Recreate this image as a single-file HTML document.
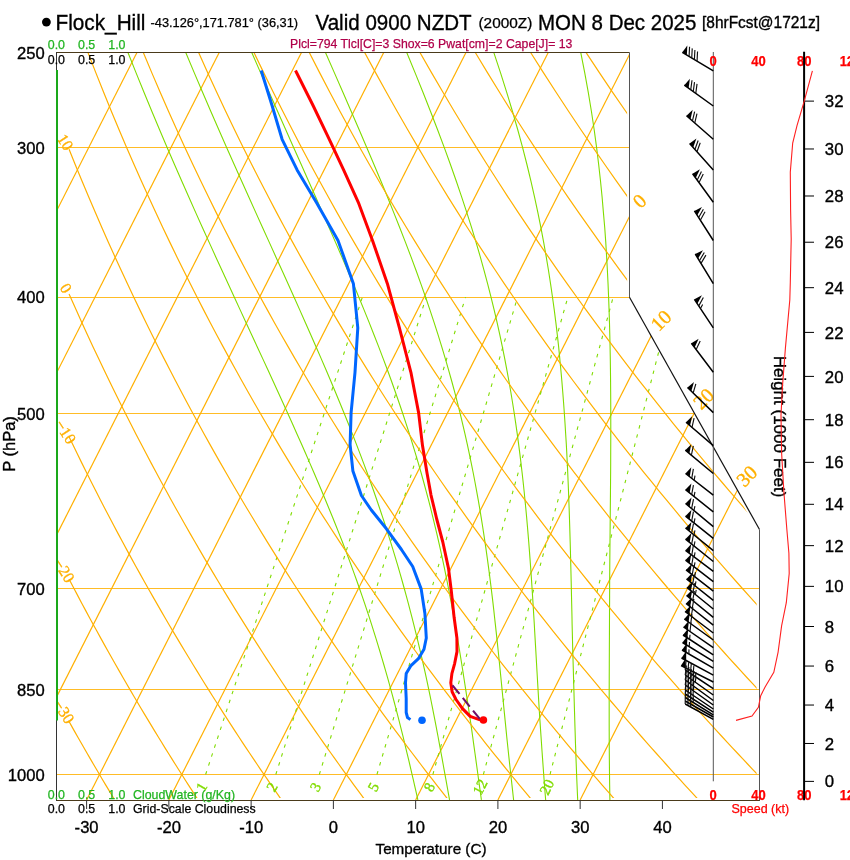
<!DOCTYPE html>
<html><head><meta charset="utf-8"><style>
html,body{margin:0;padding:0;background:#fff;overflow:hidden;}
svg{display:block;font-family:"Liberation Sans",Arial,Helvetica,sans-serif;}
</style></head><body>
<svg width="850" height="860" viewBox="0 0 850 860">
<defs><clipPath id="cp"><polygon points="56.87,799.94 759.11,799.94 759.11,529.52 629.63,297.33 629.63,52.45 56.87,52.45"/></clipPath>
<clipPath id="cp2"><polygon points="56.87,797.94 756.61,797.94 756.61,529.52 627.13,297.33 627.13,52.45 56.87,52.45"/></clipPath></defs>
<rect width="850" height="860" fill="#fff"/>
<g clip-path="url(#cp)">
<line x1="56" y1="774.5" x2="760" y2="774.5" stroke="#ffb000" stroke-opacity="0.85" stroke-width="1"/>
<line x1="56" y1="689.5" x2="760" y2="689.5" stroke="#ffb000" stroke-opacity="0.85" stroke-width="1"/>
<line x1="56" y1="588.5" x2="760" y2="588.5" stroke="#ffb000" stroke-opacity="0.85" stroke-width="1"/>
<line x1="56" y1="413.5" x2="760" y2="413.5" stroke="#ffb000" stroke-opacity="0.85" stroke-width="1"/>
<line x1="56" y1="297.5" x2="760" y2="297.5" stroke="#ffb000" stroke-opacity="0.85" stroke-width="1"/>
<line x1="56" y1="147.5" x2="760" y2="147.5" stroke="#ffb000" stroke-opacity="0.85" stroke-width="1"/>
<polyline points="-324.68,799.94 54.7,52.45" fill="none" stroke="#ffb000" stroke-width="1.2" />
<polyline points="-242.42,799.94 136.96,52.45" fill="none" stroke="#ffb000" stroke-width="1.2" />
<polyline points="-160.16,799.94 219.22,52.45" fill="none" stroke="#ffb000" stroke-width="1.2" />
<polyline points="-77.9,799.94 301.47,52.45" fill="none" stroke="#ffb000" stroke-width="1.2" />
<polyline points="4.36,799.94 383.73,52.45" fill="none" stroke="#ffb000" stroke-width="1.2" />
<polyline points="86.61,799.94 465.99,52.45" fill="none" stroke="#ffb000" stroke-width="1.2" />
<polyline points="168.87,799.94 548.25,52.45" fill="none" stroke="#ffb000" stroke-width="1.2" />
<polyline points="251.13,799.94 630.51,52.45" fill="none" stroke="#ffb000" stroke-width="1.2" />
<polyline points="333.39,799.94 712.76,52.45" fill="none" stroke="#ffb000" stroke-width="1.2" />
<polyline points="415.65,799.94 795.02,52.45" fill="none" stroke="#ffb000" stroke-width="1.2" />
<polyline points="497.9,799.94 877.28,52.45" fill="none" stroke="#ffb000" stroke-width="1.2" />
<polyline points="580.16,799.94 959.54,52.45" fill="none" stroke="#ffb000" stroke-width="1.2" />
<polyline points="417.89,799.94 416.76,794.96 415.62,789.92 414.46,784.84 413.29,779.71 412.09,774.53 410.88,769.29 409.64,764 408.37,758.66 407.08,753.26 405.75,747.81 404.44,742.3 403.07,736.73 401.68,731.1 400.25,725.4 398.79,719.65 397.29,713.83 395.76,707.94 394.19,701.99 392.58,695.97 390.93,689.88 389.23,683.71 387.49,677.47 385.7,671.16 383.86,664.77 381.97,658.3 380.02,651.75 378.01,645.11 375.95,638.39 373.82,631.58 371.63,624.68 369.37,617.69 367.04,610.6 364.63,603.42 362.15,596.14 359.59,588.75 356.95,581.25 354.22,573.65 351.4,565.93 348.52,558.1 345.53,550.15 342.41,542.07 339.2,533.87 335.89,525.53 332.48,517.06 328.97,508.46 325.36,499.7 321.64,490.8 317.81,481.74 313.88,472.52 309.82,463.13 305.66,453.58 301.38,443.84 296.97,433.92 292.45,423.8 287.81,413.49 283.04,402.97 278.15,392.23 273.13,381.26 267.98,370.06 262.7,358.61 257.29,346.91 251.75,334.93 246.08,322.67 240.27,310.12 234.33,297.26 228.25,284.07 222.03,270.54 215.67,256.65 209.17,242.38 202.52,227.71 195.73,212.61 188.8,197.06 181.72,181.03 174.49,164.5 167.11,147.42 159.59,129.76 151.91,111.48 144.07,92.54 136.09,72.88 127.95,52.45" fill="none" stroke="#80dc00" stroke-width="1.1" />
<polyline points="449.55,799.94 448.66,794.96 447.76,789.92 446.85,784.84 445.93,779.71 445,774.53 444.05,769.29 443.09,764 442.12,758.66 441.12,753.26 440.11,747.81 439.11,742.3 438.07,736.73 437,731.1 435.92,725.4 434.8,719.65 433.67,713.83 432.5,707.94 431.31,701.99 430.09,695.97 428.83,689.88 427.53,683.71 426.2,677.47 424.83,671.16 423.41,664.77 421.94,658.3 420.4,651.75 418.82,645.11 417.2,638.39 415.52,631.58 413.8,624.68 412.03,617.69 410.2,610.6 408.31,603.42 406.36,596.14 404.34,588.75 402.25,581.25 400.09,573.65 397.85,565.93 395.52,558.1 393.11,550.15 390.62,542.07 388.05,533.87 385.37,525.53 382.59,517.06 379.71,508.46 376.72,499.7 373.61,490.8 370.39,481.74 367.05,472.52 363.58,463.13 359.99,453.58 356.26,443.84 352.39,433.92 348.38,423.8 344.23,413.49 339.93,402.97 335.48,392.23 330.88,381.26 326.11,370.06 321.19,358.61 316.11,346.91 310.86,334.93 305.44,322.67 299.85,310.12 294.1,297.26 288.16,284.07 282.06,270.54 275.77,256.65 269.3,242.38 262.65,227.71 255.82,212.61 248.8,197.06 241.6,181.03 234.2,164.5 226.61,147.42 218.83,129.76 210.86,111.48 202.68,92.54 194.31,72.88 185.74,52.45" fill="none" stroke="#80dc00" stroke-width="1.1" />
<polyline points="481.41,799.94 480.71,794.96 480.01,789.92 479.31,784.84 478.61,779.71 477.9,774.53 477.18,769.29 476.46,764 475.72,758.66 474.98,753.26 474.22,747.81 473.44,742.3 472.69,736.73 471.9,731.1 471.09,725.4 470.23,719.65 469.37,713.83 468.48,707.94 467.59,701.99 466.68,695.97 465.75,689.88 464.81,683.71 463.84,677.47 462.86,671.16 461.85,664.77 460.81,658.3 459.75,651.75 458.65,645.11 457.53,638.39 456.37,631.58 455.18,624.68 453.94,617.69 452.66,610.6 451.34,603.42 449.97,596.14 448.55,588.75 447.08,581.25 445.54,573.65 443.95,565.93 442.29,558.1 440.56,550.15 438.75,542.07 436.87,533.87 434.89,525.53 432.83,517.06 430.68,508.46 428.43,499.7 426.07,490.8 423.6,481.74 421.02,472.52 418.31,463.13 415.48,453.58 412.51,443.84 409.4,433.92 406.15,423.8 402.74,413.49 399.17,402.97 395.44,392.23 391.53,381.26 387.45,370.06 383.18,358.61 378.72,346.91 374.06,334.93 369.21,322.67 364.14,310.12 358.86,297.26 353.37,284.07 347.66,270.54 341.72,256.65 335.55,242.38 329.15,227.71 322.52,212.61 315.65,197.06 308.53,181.03 301.23,164.5 293.62,147.42 285.77,129.76 277.65,111.48 269.28,92.54 260.65,72.88 251.75,52.45" fill="none" stroke="#80dc00" stroke-width="1.1" />
<polyline points="513.61,799.94 513.06,794.96 512.51,789.92 511.95,784.84 511.38,779.71 510.8,774.53 510.22,769.29 509.64,764 509.06,758.66 508.48,753.26 507.9,747.81 507.32,742.3 506.74,736.73 506.19,731.1 505.62,725.4 505.04,719.65 504.47,713.83 503.88,707.94 503.3,701.99 502.7,695.97 502.1,689.88 501.5,683.71 500.88,677.47 500.25,671.16 499.61,664.77 498.95,658.3 498.28,651.75 497.59,645.11 496.88,638.39 496.15,631.58 495.39,624.68 494.61,617.69 493.85,610.6 493.02,603.42 492.16,596.14 491.26,588.75 490.33,581.25 489.36,573.65 488.34,565.93 487.28,558.1 486.16,550.15 484.99,542.07 483.76,533.87 482.47,525.53 481.12,517.06 479.69,508.46 478.18,499.7 476.59,490.8 474.91,481.74 473.14,472.52 471.24,463.13 469.28,453.58 467.2,443.84 464.97,433.92 462.62,423.8 460.13,413.49 457.49,402.97 454.7,392.23 451.75,381.26 448.62,370.06 445.3,358.61 441.79,346.91 438.08,334.93 434.15,322.67 430,310.12 425.61,297.26 420.98,284.07 416.08,270.54 410.93,256.65 405.49,242.38 399.78,227.71 393.76,212.61 387.5,197.06 380.89,181.03 373.97,164.5 366.73,147.42 359.16,129.76 351.25,111.48 343.01,92.54 334.42,72.88 325.48,52.45" fill="none" stroke="#80dc00" stroke-width="1.1" />
<polyline points="545.67,799.94 545.27,794.96 544.87,789.92 544.48,784.84 544.09,779.71 543.71,774.53 543.32,769.29 542.94,764 542.56,758.66 542.17,753.26 541.78,747.81 541.42,742.3 541.04,736.73 540.65,731.1 540.27,725.4 539.88,719.65 539.5,713.83 539.14,707.94 538.78,701.99 538.42,695.97 538.06,689.88 537.7,683.71 537.34,677.47 536.98,671.16 536.61,664.77 536.24,658.3 535.87,651.75 535.48,645.11 535.09,638.39 534.69,631.58 534.32,624.68 533.9,617.69 533.47,610.6 533.03,603.42 532.57,596.14 532.09,588.75 531.6,581.25 531.08,573.65 530.53,565.93 529.96,558.1 529.36,550.15 528.73,542.07 528.06,533.87 527.35,525.53 526.61,517.06 525.81,508.46 524.96,499.7 524.07,490.8 523.11,481.74 522.08,472.52 520.99,463.13 519.82,453.58 518.58,443.84 517.24,433.92 515.8,423.8 514.27,413.49 512.62,402.97 510.85,392.23 508.95,381.26 506.89,370.06 504.71,358.61 502.36,346.91 499.83,334.93 497.12,322.67 494.2,310.12 491.07,297.26 487.71,284.07 484.1,270.54 480.23,256.65 476.07,242.38 471.61,227.71 466.83,212.61 461.71,197.06 456.24,181.03 450.43,164.5 444.21,147.42 437.58,129.76 430.54,111.48 423.06,92.54 415.13,72.88 406.74,52.45" fill="none" stroke="#80dc00" stroke-width="1.1" />
<polyline points="577.7,799.94 577.47,794.96 577.25,789.92 577.03,784.84 576.82,779.71 576.61,774.53 576.41,769.29 576.21,764 576.01,758.66 575.82,753.26 575.63,747.81 575.43,742.3 575.28,736.73 575.1,731.1 574.92,725.4 574.75,719.65 574.58,713.83 574.4,707.94 574.23,701.99 574.06,695.97 573.89,689.88 573.71,683.71 573.54,677.47 573.36,671.16 573.17,664.77 572.98,658.3 572.79,651.75 572.62,645.11 572.46,638.39 572.29,631.58 572.12,624.68 572,617.69 571.84,610.6 571.68,603.42 571.51,596.14 571.34,588.75 571.17,581.25 570.99,573.65 570.8,565.93 570.61,558.1 570.4,550.15 570.18,542.07 569.94,533.87 569.69,525.53 569.42,517.06 569.14,508.46 568.82,499.7 568.48,490.8 568.12,481.74 567.72,472.52 567.28,463.13 566.81,453.58 566.29,443.84 565.67,433.92 565.04,423.8 564.35,413.49 563.6,402.97 562.77,392.23 561.87,381.26 560.87,370.06 559.78,358.61 558.65,346.91 557.32,334.93 555.87,322.67 554.28,310.12 552.5,297.26 550.61,284.07 548.5,270.54 546.2,256.65 543.68,242.38 540.91,227.71 537.88,212.61 534.56,197.06 530.93,181.03 526.93,164.5 522.55,147.42 517.75,129.76 512.51,111.48 506.79,92.54 500.55,72.88 493.76,52.45" fill="none" stroke="#80dc00" stroke-width="1.1" />
<polyline points="609.91,799.94 609.81,794.96 609.73,789.92 609.65,784.84 609.58,779.71 609.51,774.53 609.45,769.29 609.4,764 609.35,758.66 609.31,753.26 609.27,747.81 609.23,742.3 609.22,736.73 609.2,731.1 609.19,725.4 609.18,719.65 609.18,713.83 609.18,707.94 609.18,701.99 609.19,695.97 609.2,689.88 609.22,683.71 609.24,677.47 609.26,671.16 609.29,664.77 609.31,658.3 609.34,651.75 609.37,645.11 609.41,638.39 609.44,631.58 609.47,624.68 609.5,617.69 609.52,610.6 609.59,603.42 609.62,596.14 609.64,588.75 609.66,581.25 609.71,573.65 609.77,565.93 609.84,558.1 609.91,550.15 609.99,542.07 610.07,533.87 610.15,525.53 610.23,517.06 610.31,508.46 610.4,499.7 610.48,490.8 610.55,481.74 610.63,472.52 610.69,463.13 610.71,453.58 610.75,443.84 610.78,433.92 610.78,423.8 610.77,413.49 610.74,402.97 610.67,392.23 610.58,381.26 610.45,370.06 610.29,358.61 610.07,346.91 609.8,334.93 609.48,322.67 609.08,310.12 608.61,297.26 608.05,284.07 607.39,270.54 606.62,256.65 605.77,242.38 604.74,227.71 603.42,212.61 602.1,197.06 600.5,181.03 598.67,164.5 596.58,147.42 594.18,129.76 591.44,111.48 588.32,92.54 584.75,72.88 580.73,52.45" fill="none" stroke="#80dc00" stroke-width="1.1" />
<polyline points="205.61,774.53 362.35,297.26" fill="none" stroke="#80dc00" stroke-width="1.1" stroke-dasharray="3.5,5.9"/>
<polyline points="275.81,774.53 426.12,297.26" fill="none" stroke="#80dc00" stroke-width="1.1" stroke-dasharray="3.5,5.9"/>
<polyline points="319.33,774.53 465.53,297.26" fill="none" stroke="#80dc00" stroke-width="1.1" stroke-dasharray="3.5,5.9"/>
<polyline points="376.95,774.53 517.53,297.26" fill="none" stroke="#80dc00" stroke-width="1.1" stroke-dasharray="3.5,5.9"/>
<polyline points="432.85,774.53 567.82,297.26" fill="none" stroke="#80dc00" stroke-width="1.1" stroke-dasharray="3.5,5.9"/>
<polyline points="483.37,774.53 613.13,297.26" fill="none" stroke="#80dc00" stroke-width="1.1" stroke-dasharray="3.5,5.9"/>
<polyline points="550.02,774.53 672.75,297.26" fill="none" stroke="#80dc00" stroke-width="1.1" stroke-dasharray="3.5,5.9"/>
</g>
<g clip-path="url(#cp2)">
<polyline points="114.72,799.94 111.71,794.96 108.68,789.92 105.64,784.84 102.58,779.71 99.51,774.53 96.43,769.29 93.33,764 90.22,758.66 87.09,753.26 83.94,747.81 80.78,742.3 77.61,736.73 74.42,731.1 71.21,725.4 69.06,721.56" fill="none" stroke="#ffb000" stroke-width="1.2" />
<polyline points="198.13,799.94 194.89,794.96 191.63,789.92 188.36,784.84 185.07,779.71 181.77,774.53 178.45,769.29 175.11,764 171.76,758.66 168.39,753.26 165,747.81 161.6,742.3 158.18,736.73 154.74,731.1 151.28,725.4 147.81,719.65 144.32,713.83 140.8,707.94 137.27,701.99 133.72,695.97 130.15,689.88 126.57,683.71 122.96,677.47 119.33,671.16 115.68,664.77 112.01,658.3 108.32,651.75 104.61,645.11 100.88,638.39 97.12,631.58 93.34,624.68 89.54,617.69 85.72,610.6 81.87,603.42 78,596.14 74.11,588.75 70.19,581.25 69.06,579.08" fill="none" stroke="#ffb000" stroke-width="1.2" />
<polyline points="281.55,799.94 278.08,794.96 274.59,789.92 271.09,784.84 267.57,779.71 264.03,774.53 260.47,769.29 256.9,764 253.3,758.66 249.69,753.26 246.06,747.81 242.41,742.3 238.75,736.73 235.06,731.1 231.35,725.4 227.62,719.65 223.88,713.83 220.11,707.94 216.32,701.99 212.51,695.97 208.68,689.88 204.82,683.71 200.95,677.47 197.05,671.16 193.13,664.77 189.18,658.3 185.22,651.75 181.23,645.11 177.21,638.39 173.17,631.58 169.1,624.68 165.01,617.69 160.9,610.6 156.75,603.42 152.58,596.14 148.39,588.75 144.16,581.25 139.91,573.65 135.63,565.93 131.32,558.1 126.98,550.15 122.61,542.07 118.22,533.87 113.79,525.53 109.32,517.06 104.83,508.46 100.3,499.7 95.74,490.8 91.15,481.74 86.52,472.52 81.86,463.13 77.16,453.58 72.43,443.84 69.06,436.84" fill="none" stroke="#ffb000" stroke-width="1.2" />
<polyline points="364.96,799.94 361.26,794.96 357.55,789.92 353.81,784.84 350.06,779.71 346.29,774.53 342.49,769.29 338.68,764 334.85,758.66 331,753.26 327.12,747.81 323.23,742.3 319.32,736.73 315.38,731.1 311.42,725.4 307.44,719.65 303.44,713.83 299.41,707.94 295.37,701.99 291.29,695.97 287.2,689.88 283.08,683.71 278.94,677.47 274.77,671.16 270.58,664.77 266.36,658.3 262.11,651.75 257.84,645.11 253.54,638.39 249.22,631.58 244.86,624.68 240.48,617.69 236.07,610.6 231.64,603.42 227.17,596.14 222.67,588.75 218.14,581.25 213.58,573.65 208.99,565.93 204.36,558.1 199.71,550.15 195.02,542.07 190.29,533.87 185.53,525.53 180.74,517.06 175.91,508.46 171.04,499.7 166.14,490.8 161.19,481.74 156.21,472.52 151.19,463.13 146.13,453.58 141.03,443.84 135.88,433.92 130.69,423.8 125.46,413.49 120.18,402.97 114.86,392.23 109.49,381.26 104.07,370.06 98.61,358.61 93.09,346.91 87.53,334.93 81.91,322.67 76.24,310.12 70.51,297.26 69.06,293.95" fill="none" stroke="#ffb000" stroke-width="1.2" />
<polyline points="448.38,799.94 444.45,794.96 440.5,789.92 436.54,784.84 432.55,779.71 428.54,774.53 424.52,769.29 420.47,764 416.39,758.66 412.3,753.26 408.18,747.81 404.05,742.3 399.88,736.73 395.7,731.1 391.49,725.4 387.26,719.65 383,713.83 378.72,707.94 374.41,701.99 370.08,695.97 365.72,689.88 361.34,683.71 356.93,677.47 352.49,671.16 348.02,664.77 343.53,658.3 339.01,651.75 334.46,645.11 329.88,638.39 325.27,631.58 320.63,624.68 315.95,617.69 311.25,610.6 306.52,603.42 301.75,596.14 296.95,588.75 292.12,581.25 287.25,573.65 282.34,565.93 277.4,558.1 272.43,550.15 267.42,542.07 262.37,533.87 257.28,525.53 252.15,517.06 246.98,508.46 241.78,499.7 236.53,490.8 231.24,481.74 225.9,472.52 220.52,463.13 215.1,453.58 209.63,443.84 204.11,433.92 198.54,423.8 192.93,413.49 187.26,402.97 181.54,392.23 175.77,381.26 169.95,370.06 164.07,358.61 158.14,346.91 152.15,334.93 146.09,322.67 139.98,310.12 133.81,297.26 127.57,284.07 121.27,270.54 114.9,256.65 108.46,242.38 101.95,227.71 95.37,212.61 88.72,197.06 81.99,181.03 75.18,164.5 69.06,149.3" fill="none" stroke="#ffb000" stroke-width="1.2" />
<polyline points="531.79,799.94 527.64,794.96 523.46,789.92 519.26,784.84 515.04,779.71 510.8,774.53 506.54,769.29 502.25,764 497.94,758.66 493.6,753.26 489.24,747.81 484.86,742.3 480.45,736.73 476.02,731.1 471.56,725.4 467.07,719.65 462.56,713.83 458.02,707.94 453.46,701.99 448.87,695.97 444.24,689.88 439.59,683.71 434.92,677.47 430.21,671.16 425.47,664.77 420.7,658.3 415.9,651.75 411.07,645.11 406.21,638.39 401.32,631.58 396.39,624.68 391.43,617.69 386.43,610.6 381.4,603.42 376.33,596.14 371.23,588.75 366.09,581.25 360.91,573.65 355.7,565.93 350.45,558.1 345.15,550.15 339.82,542.07 334.44,533.87 329.03,525.53 323.57,517.06 318.06,508.46 312.51,499.7 306.92,490.8 301.28,481.74 295.59,472.52 289.85,463.13 284.06,453.58 278.22,443.84 272.33,433.92 266.39,423.8 260.39,413.49 254.34,402.97 248.23,392.23 242.06,381.26 235.83,370.06 229.54,358.61 223.18,346.91 216.76,334.93 210.28,322.67 203.72,310.12 197.1,297.26 190.41,284.07 183.64,270.54 176.8,256.65 169.88,242.38 162.87,227.71 155.79,212.61 148.63,197.06 141.37,181.03 134.03,164.5 126.6,147.42 119.07,129.76 111.44,111.48 103.72,92.54 95.89,72.88 87.96,52.45" fill="none" stroke="#ffb000" stroke-width="1.2" />
<polyline points="615.2,799.94 610.82,794.96 606.42,789.92 601.99,784.84 597.54,779.71 593.06,774.53 588.56,769.29 584.03,764 579.48,758.66 574.91,753.26 570.3,747.81 565.68,742.3 561.02,736.73 556.34,731.1 551.63,725.4 546.89,719.65 542.12,713.83 537.33,707.94 532.5,701.99 527.65,695.97 522.77,689.88 517.85,683.71 512.91,677.47 507.93,671.16 502.92,664.77 497.87,658.3 492.8,651.75 487.69,645.11 482.54,638.39 477.36,631.58 472.15,624.68 466.9,617.69 461.61,610.6 456.28,603.42 450.92,596.14 445.51,588.75 440.07,581.25 434.58,573.65 429.06,565.93 423.49,558.1 417.88,550.15 412.22,542.07 406.52,533.87 400.77,525.53 394.98,517.06 389.14,508.46 383.25,499.7 377.31,490.8 371.32,481.74 365.28,472.52 359.18,463.13 353.03,453.58 346.82,443.84 340.56,433.92 334.24,423.8 327.86,413.49 321.42,402.97 314.91,392.23 308.34,381.26 301.7,370.06 295,358.61 288.23,346.91 281.38,334.93 274.46,322.67 267.47,310.12 260.4,297.26 253.25,284.07 246.01,270.54 238.7,256.65 231.29,242.38 223.8,227.71 216.21,212.61 208.53,197.06 200.75,181.03 192.87,164.5 184.89,147.42 176.8,129.76 168.6,111.48 160.28,92.54 151.85,72.88 143.3,52.45" fill="none" stroke="#ffb000" stroke-width="1.2" />
<polyline points="698.62,799.94 694.01,794.96 689.37,789.92 684.71,784.84 680.03,779.71 675.32,774.53 670.58,769.29 665.82,764 661.03,758.66 656.21,753.26 651.37,747.81 646.49,742.3 641.59,736.73 636.66,731.1 631.7,725.4 626.71,719.65 621.69,713.83 616.63,707.94 611.55,701.99 606.44,695.97 601.29,689.88 596.11,683.71 590.89,677.47 585.65,671.16 580.36,664.77 575.05,658.3 569.69,651.75 564.3,645.11 558.88,638.39 553.41,631.58 547.91,624.68 542.37,617.69 536.79,610.6 531.16,603.42 525.5,596.14 519.79,588.75 514.04,581.25 508.25,573.65 502.41,565.93 496.53,558.1 490.6,550.15 484.62,542.07 478.6,533.87 472.52,525.53 466.39,517.06 460.22,508.46 453.99,499.7 447.7,490.8 441.36,481.74 434.97,472.52 428.51,463.13 422,453.58 415.42,443.84 408.79,433.92 402.09,423.8 395.32,413.49 388.49,402.97 381.59,392.23 374.62,381.26 367.58,370.06 360.46,358.61 353.27,346.91 346,334.93 338.65,322.67 331.21,310.12 323.69,297.26 316.08,284.07 308.39,270.54 300.59,256.65 292.71,242.38 284.72,227.71 276.63,212.61 268.44,197.06 260.14,181.03 251.72,164.5 243.19,147.42 234.53,129.76 225.76,111.48 216.85,92.54 207.81,72.88 198.63,52.45" fill="none" stroke="#ffb000" stroke-width="1.2" />
<polyline points="782.03,799.94 777.19,794.96 772.33,789.92 767.44,784.84 762.52,779.71 757.58,774.53 752.6,769.29 747.6,764 742.57,758.66 737.51,753.26 732.43,747.81 727.31,742.3 722.16,736.73 716.98,731.1 711.77,725.4 706.52,719.65 701.25,713.83 695.94,707.94 690.6,701.99 685.22,695.97 679.81,689.88 674.37,683.71 668.88,677.47 663.37,671.16 657.81,664.77 652.22,658.3 646.59,651.75 640.92,645.11 635.21,638.39 629.46,631.58 623.67,624.68 617.84,617.69 611.96,610.6 606.04,603.42 600.08,596.14 594.07,588.75 588.02,581.25 581.92,573.65 575.77,565.93 569.57,558.1 563.32,550.15 557.02,542.07 550.67,533.87 544.27,525.53 537.81,517.06 531.29,508.46 524.72,499.7 518.09,490.8 511.4,481.74 504.65,472.52 497.84,463.13 490.97,453.58 484.02,443.84 477.02,433.92 469.94,423.8 462.79,413.49 455.57,402.97 448.28,392.23 440.9,381.26 433.46,370.06 425.93,358.61 418.31,346.91 410.62,334.93 402.83,322.67 394.96,310.12 386.99,297.26 378.92,284.07 370.76,270.54 362.49,256.65 354.12,242.38 345.64,227.71 337.05,212.61 328.34,197.06 319.52,181.03 310.56,164.5 301.48,147.42 292.27,129.76 282.91,111.48 273.42,92.54 263.77,72.88 253.96,52.45" fill="none" stroke="#ffb000" stroke-width="1.2" />
<polyline points="865.45,799.94 860.38,794.96 855.29,789.92 850.17,784.84 845.01,779.71 839.84,774.53 834.63,769.29 829.39,764 824.12,758.66 818.82,753.26 813.49,747.81 808.12,742.3 802.73,736.73 797.3,731.1 791.84,725.4 786.34,719.65 780.81,713.83 775.24,707.94 769.64,701.99 764.01,695.97 758.33,689.88 752.62,683.71 746.87,677.47 741.09,671.16 735.26,664.77 729.39,658.3 723.48,651.75 717.54,645.11 711.54,638.39 705.51,631.58 699.43,624.68 693.31,617.69 687.14,610.6 680.93,603.42 674.66,596.14 668.35,588.75 661.99,581.25 655.59,573.65 649.12,565.93 642.61,558.1 636.05,550.15 629.42,542.07 622.75,533.87 616.01,525.53 609.22,517.06 602.37,508.46 595.46,499.7 588.48,490.8 581.45,481.74 574.34,472.52 567.17,463.13 559.93,453.58 552.62,443.84 545.24,433.92 537.79,423.8 530.26,413.49 522.65,402.97 514.96,392.23 507.19,381.26 499.33,370.06 491.39,358.61 483.36,346.91 475.23,334.93 467.01,322.67 458.7,310.12 450.28,297.26 441.76,284.07 433.13,270.54 424.39,256.65 415.54,242.38 406.57,227.71 397.47,212.61 388.25,197.06 378.9,181.03 369.41,164.5 359.78,147.42 350,129.76 340.07,111.48 329.98,92.54 319.73,72.88 309.3,52.45" fill="none" stroke="#ffb000" stroke-width="1.2" />
<polyline points="948.86,799.94 943.57,794.96 938.24,789.92 932.89,784.84 927.51,779.71 922.09,774.53 916.65,769.29 911.17,764 905.66,758.66 900.12,753.26 894.55,747.81 888.94,742.3 883.29,736.73 877.62,731.1 871.9,725.4 866.16,719.65 860.37,713.83 854.55,707.94 848.69,701.99 842.79,695.97 836.86,689.88 830.88,683.71 824.86,677.47 818.81,671.16 812.71,664.77 806.56,658.3 800.38,651.75 794.15,645.11 787.88,638.39 781.56,631.58 775.19,624.68 768.78,617.69 762.32,610.6 755.81,603.42 749.25,596.14 742.64,588.75 735.97,581.25 729.25,573.65 722.48,565.93 715.65,558.1 708.77,550.15 701.83,542.07 694.82,533.87 687.76,525.53 680.64,517.06 673.45,508.46 666.2,499.7 658.88,490.8 651.49,481.74 644.03,472.52 636.5,463.13 628.9,453.58 621.22,443.84 613.47,433.92 605.64,423.8 597.72,413.49 589.72,402.97 581.64,392.23 573.47,381.26 565.21,370.06 556.85,358.61 548.4,346.91 539.85,334.93 531.2,322.67 522.44,310.12 513.58,297.26 504.6,284.07 495.51,270.54 486.29,256.65 476.96,242.38 467.49,227.71 457.89,212.61 448.16,197.06 438.28,181.03 428.25,164.5 418.07,147.42 407.73,129.76 397.23,111.48 386.55,92.54 375.68,72.88 364.63,52.45" fill="none" stroke="#ffb000" stroke-width="1.2" />
<polyline points="1032.27,799.94 1026.75,794.96 1021.2,789.92 1015.62,784.84 1010,779.71 1004.35,774.53 998.67,769.29 992.96,764 987.21,758.66 981.42,753.26 975.61,747.81 969.75,742.3 963.86,736.73 957.94,731.1 951.97,725.4 945.97,719.65 939.93,713.83 933.85,707.94 927.74,701.99 921.58,695.97 915.38,689.88 909.14,683.71 902.85,677.47 896.53,671.16 890.15,664.77 883.74,658.3 877.28,651.75 870.77,645.11 864.21,638.39 857.61,631.58 850.95,624.68 844.25,617.69 837.5,610.6 830.69,603.42 823.83,596.14 816.92,588.75 809.95,581.25 802.92,573.65 795.84,565.93 788.69,558.1 781.49,550.15 774.23,542.07 766.9,533.87 759.51,525.53 752.05,517.06 744.53,508.46 736.93,499.7 729.27,490.8 721.53,481.74 713.72,472.52 705.83,463.13 697.87,453.58 689.82,443.84 681.7,433.92 673.49,423.8 665.19,413.49 656.8,402.97 648.32,392.23 639.75,381.26 631.08,370.06 622.32,358.61 613.45,346.91 604.47,334.93 595.38,322.67 586.19,310.12 576.87,297.26 567.44,284.07 557.88,270.54 548.19,256.65 538.37,242.38 528.41,227.71 518.31,212.61 508.06,197.06 497.66,181.03 487.1,164.5 476.37,147.42 465.47,129.76 454.38,111.48 443.11,92.54 431.64,72.88 419.97,52.45" fill="none" stroke="#ffb000" stroke-width="1.2" />
<polyline points="1115.69,799.94 1109.94,794.96 1104.16,789.92 1098.34,784.84 1092.49,779.71 1086.61,774.53 1080.69,769.29 1074.74,764 1068.75,758.66 1062.73,753.26 1056.67,747.81 1050.57,742.3 1044.43,736.73 1038.26,731.1 1032.04,725.4 1025.79,719.65 1019.5,713.83 1013.16,707.94 1006.78,701.99 1000.36,695.97 993.9,689.88 987.39,683.71 980.84,677.47 974.24,671.16 967.6,664.77 960.91,658.3 954.17,651.75 947.38,645.11 940.54,638.39 933.66,631.58 926.72,624.68 919.72,617.69 912.67,610.6 905.57,603.42 898.41,596.14 891.2,588.75 883.92,581.25 876.59,573.65 869.19,565.93 861.74,558.1 854.21,550.15 846.63,542.07 838.98,533.87 831.25,525.53 823.46,517.06 815.6,508.46 807.67,499.7 799.66,490.8 791.57,481.74 783.41,472.52 775.16,463.13 766.84,453.58 758.42,443.84 749.92,433.92 741.33,423.8 732.65,413.49 723.88,402.97 715.01,392.23 706.03,381.26 696.96,370.06 687.78,358.61 678.49,346.91 669.09,334.93 659.57,322.67 649.93,310.12 640.17,297.26 630.28,284.07 620.25,270.54 610.09,256.65 599.79,242.38 589.34,227.71 578.73,212.61 567.97,197.06 557.04,181.03 545.94,164.5 534.67,147.42 523.2,129.76 511.54,111.48 499.68,92.54 487.6,72.88 475.3,52.45" fill="none" stroke="#ffb000" stroke-width="1.2" />
<polyline points="1199.1,799.94 1193.13,794.96 1187.11,789.92 1181.07,784.84 1174.99,779.71 1168.87,774.53 1162.71,769.29 1156.52,764 1150.3,758.66 1144.03,753.26 1137.73,747.81 1131.38,742.3 1125,736.73 1118.58,731.1 1112.11,725.4 1105.61,719.65 1099.06,713.83 1092.47,707.94 1085.83,701.99 1079.15,695.97 1072.42,689.88 1065.65,683.71 1058.83,677.47 1051.96,671.16 1045.05,664.77 1038.08,658.3 1031.07,651.75 1024,645.11 1016.88,638.39 1009.7,631.58 1002.48,624.68 995.19,617.69 987.85,610.6 980.45,603.42 973,596.14 965.48,588.75 957.9,581.25 950.26,573.65 942.55,565.93 934.78,558.1 926.94,550.15 919.03,542.07 911.05,533.87 903,525.53 894.88,517.06 886.68,508.46 878.4,499.7 870.05,490.8 861.61,481.74 853.1,472.52 844.49,463.13 835.8,453.58 827.02,443.84 818.15,433.92 809.18,423.8 800.12,413.49 790.96,402.97 781.69,392.23 772.32,381.26 762.84,370.06 753.24,358.61 743.53,346.91 733.7,334.93 723.75,322.67 713.67,310.12 703.46,297.26 693.11,284.07 682.62,270.54 671.99,256.65 661.2,242.38 650.26,227.71 639.15,212.61 627.88,197.06 616.43,181.03 604.79,164.5 592.96,147.42 580.93,129.76 568.7,111.48 556.24,92.54 543.56,72.88 530.63,52.45" fill="none" stroke="#ffb000" stroke-width="1.2" />
<polyline points="1282.52,799.94 1276.31,794.96 1270.07,789.92 1263.79,784.84 1257.48,779.71 1251.13,774.53 1244.74,769.29 1238.31,764 1231.84,758.66 1225.33,753.26 1218.79,747.81 1212.2,742.3 1205.57,736.73 1198.9,731.1 1192.18,725.4 1185.42,719.65 1178.62,713.83 1171.77,707.94 1164.88,701.99 1157.93,695.97 1150.94,689.88 1143.91,683.71 1136.82,677.47 1129.68,671.16 1122.5,664.77 1115.26,658.3 1107.96,651.75 1100.61,645.11 1093.21,638.39 1085.75,631.58 1078.24,624.68 1070.66,617.69 1063.03,610.6 1055.34,603.42 1047.58,596.14 1039.76,588.75 1031.87,581.25 1023.92,573.65 1015.91,565.93 1007.82,558.1 999.66,550.15 991.43,542.07 983.13,533.87 974.75,525.53 966.29,517.06 957.76,508.46 949.14,499.7 940.44,490.8 931.66,481.74 922.78,472.52 913.82,463.13 904.77,453.58 895.62,443.84 886.38,433.92 877.03,423.8 867.59,413.49 858.03,402.97 848.37,392.23 838.6,381.26 828.71,370.06 818.71,358.61 808.58,346.91 798.32,334.93 787.94,322.67 777.42,310.12 766.76,297.26 755.95,284.07 745,270.54 733.89,256.65 722.62,242.38 711.18,227.71 699.57,212.61 687.78,197.06 675.81,181.03 663.63,164.5 651.26,147.42 638.67,129.76 625.85,111.48 612.81,92.54 599.52,72.88 585.97,52.45" fill="none" stroke="#ffb000" stroke-width="1.2" />
<polyline points="1365.93,799.94 1359.5,794.96 1353.03,789.92 1346.52,784.84 1339.97,779.71 1333.38,774.53 1326.76,769.29 1320.09,764 1313.39,758.66 1306.64,753.26 1299.85,747.81 1293.01,742.3 1286.14,736.73 1279.22,731.1 1272.25,725.4 1265.24,719.65 1258.18,713.83 1251.08,707.94 1243.92,701.99 1236.72,695.97 1229.47,689.88 1222.16,683.71 1214.81,677.47 1207.4,671.16 1199.94,664.77 1192.43,658.3 1184.86,651.75 1177.23,645.11 1169.55,638.39 1161.8,631.58 1154,624.68 1146.13,617.69 1138.21,610.6 1130.22,603.42 1122.16,596.14 1114.04,588.75 1105.85,581.25 1097.59,573.65 1089.26,565.93 1080.86,558.1 1072.38,550.15 1063.83,542.07 1055.2,533.87 1046.5,525.53 1037.71,517.06 1028.83,508.46 1019.88,499.7 1010.83,490.8 1001.7,481.74 992.47,472.52 983.15,463.13 973.74,453.58 964.22,443.84 954.6,433.92 944.88,423.8 935.05,413.49 925.11,402.97 915.06,392.23 904.88,381.26 894.59,370.06 884.17,358.61 873.62,346.91 862.94,334.93 852.12,322.67 841.16,310.12 830.05,297.26 818.79,284.07 807.37,270.54 795.79,256.65 784.04,242.38 772.11,227.71 759.99,212.61 747.69,197.06 735.19,181.03 722.48,164.5 709.55,147.42 696.4,129.76 683.01,111.48 669.37,92.54 655.47,72.88 641.3,52.45" fill="none" stroke="#ffb000" stroke-width="1.2" />
<polyline points="1449.34,799.94 1442.68,794.96 1435.98,789.92 1429.24,784.84 1422.46,779.71 1415.64,774.53 1408.78,769.29 1401.88,764 1394.93,758.66 1387.94,753.26 1380.91,747.81 1373.83,742.3 1366.71,736.73 1359.54,731.1 1352.32,725.4 1345.06,719.65 1337.74,713.83 1330.38,707.94 1322.97,701.99 1315.5,695.97 1307.99,689.88 1300.42,683.71 1292.8,677.47 1285.12,671.16 1277.39,664.77 1269.6,658.3 1261.75,651.75 1253.85,645.11 1245.88,638.39 1237.85,631.58 1229.76,624.68 1221.61,617.69 1213.39,610.6 1205.1,603.42 1196.74,596.14 1188.32,588.75 1179.83,581.25 1171.26,573.65 1162.62,565.93 1153.9,558.1 1145.11,550.15 1136.23,542.07 1127.28,533.87 1118.24,525.53 1109.12,517.06 1099.91,508.46 1090.61,499.7 1081.22,490.8 1071.74,481.74 1062.16,472.52 1052.48,463.13 1042.7,453.58 1032.82,443.84 1022.83,433.92 1012.73,423.8 1002.52,413.49 992.19,402.97 981.74,392.23 971.16,381.26 960.46,370.06 949.63,358.61 938.66,346.91 927.56,334.93 916.3,322.67 904.9,310.12 893.35,297.26 881.63,284.07 869.74,270.54 857.69,256.65 845.45,242.38 833.03,227.71 820.41,212.61 807.6,197.06 794.57,181.03 781.32,164.5 767.85,147.42 754.13,129.76 740.17,111.48 725.94,92.54 711.43,72.88 696.63,52.45" fill="none" stroke="#ffb000" stroke-width="1.2" />
<polyline points="1532.76,799.94 1525.87,794.96 1518.94,789.92 1511.97,784.84 1504.96,779.71 1497.9,774.53 1490.8,769.29 1483.66,764 1476.48,758.66 1469.24,753.26 1461.97,747.81 1454.64,742.3 1447.27,736.73 1439.86,731.1 1432.39,725.4 1424.87,719.65 1417.3,713.83 1409.69,707.94 1402.01,701.99 1394.29,695.97 1386.51,689.88 1378.68,683.71 1370.79,677.47 1362.84,671.16 1354.84,664.77 1346.77,658.3 1338.65,651.75 1330.46,645.11 1322.21,638.39 1313.9,631.58 1305.52,624.68 1297.08,617.69 1288.56,610.6 1279.98,603.42 1271.33,596.14 1262.6,588.75 1253.8,581.25 1244.93,573.65 1235.97,565.93 1226.94,558.1 1217.83,550.15 1208.64,542.07 1199.36,533.87 1189.99,525.53 1180.53,517.06 1170.99,508.46 1161.35,499.7 1151.62,490.8 1141.78,481.74 1131.85,472.52 1121.81,463.13 1111.67,453.58 1101.42,443.84 1091.06,433.92 1080.58,423.8 1069.98,413.49 1059.27,402.97 1048.42,392.23 1037.45,381.26 1026.34,370.06 1015.1,358.61 1003.71,346.91 992.17,334.93 980.49,322.67 968.65,310.12 956.64,297.26 944.47,284.07 932.12,270.54 919.59,256.65 906.87,242.38 893.95,227.71 880.83,212.61 867.5,197.06 853.95,181.03 840.17,164.5 826.14,147.42 811.87,129.76 797.32,111.48 782.5,92.54 767.39,72.88 751.97,52.45" fill="none" stroke="#ffb000" stroke-width="1.2" />
<polyline points="1616.17,799.94 1609.06,794.96 1601.9,789.92 1594.69,784.84 1587.45,779.71 1580.16,774.53 1572.83,769.29 1565.45,764 1558.02,758.66 1550.55,753.26 1543.03,747.81 1535.46,742.3 1527.84,736.73 1520.18,731.1 1512.46,725.4 1504.69,719.65 1496.87,713.83 1488.99,707.94 1481.06,701.99 1473.08,695.97 1465.03,689.88 1456.94,683.71 1448.78,677.47 1440.56,671.16 1432.28,664.77 1423.95,658.3 1415.54,651.75 1407.08,645.11 1398.55,638.39 1389.95,631.58 1381.28,624.68 1372.55,617.69 1363.74,610.6 1354.86,603.42 1345.91,596.14 1336.88,588.75 1327.78,581.25 1318.59,573.65 1309.33,565.93 1299.98,558.1 1290.55,550.15 1281.04,542.07 1271.43,533.87 1261.74,525.53 1251.95,517.06 1242.07,508.46 1232.09,499.7 1222.01,490.8 1211.83,481.74 1201.54,472.52 1191.14,463.13 1180.64,453.58 1170.02,443.84 1159.29,433.92 1148.43,423.8 1137.45,413.49 1126.34,402.97 1115.1,392.23 1103.73,381.26 1092.22,370.06 1080.56,358.61 1068.75,346.91 1056.79,334.93 1044.67,322.67 1032.39,310.12 1019.94,297.26 1007.3,284.07 994.49,270.54 981.49,256.65 968.28,242.38 954.88,227.71 941.25,212.61 927.41,197.06 913.33,181.03 899.01,164.5 884.44,147.42 869.6,129.76 854.48,111.48 839.07,92.54 823.35,72.88 807.3,52.45" fill="none" stroke="#ffb000" stroke-width="1.2" />
<polyline points="1699.59,799.94 1692.24,794.96 1684.85,789.92 1677.42,784.84 1669.94,779.71 1662.42,774.53 1654.85,769.29 1647.23,764 1639.57,758.66 1631.85,753.26 1624.09,747.81 1616.28,742.3 1608.41,736.73 1600.5,731.1 1592.53,725.4 1584.5,719.65 1576.43,713.83 1568.3,707.94 1560.11,701.99 1551.86,695.97 1543.56,689.88 1535.19,683.71 1526.77,677.47 1518.28,671.16 1509.73,664.77 1501.12,658.3 1492.44,651.75 1483.69,645.11 1474.88,638.39 1466,631.58 1457.04,624.68 1448.02,617.69 1438.92,610.6 1429.74,603.42 1420.49,596.14 1411.16,588.75 1401.75,581.25 1392.26,573.65 1382.69,565.93 1373.03,558.1 1363.28,550.15 1353.44,542.07 1343.51,533.87 1333.48,525.53 1323.36,517.06 1313.14,508.46 1302.82,499.7 1292.4,490.8 1281.87,481.74 1271.23,472.52 1260.47,463.13 1249.61,453.58 1238.62,443.84 1227.51,433.92 1216.28,423.8 1204.92,413.49 1193.42,402.97 1181.79,392.23 1170.01,381.26 1158.09,370.06 1146.02,358.61 1133.8,346.91 1121.41,334.93 1108.86,322.67 1096.13,310.12 1083.23,297.26 1070.14,284.07 1056.86,270.54 1043.38,256.65 1029.7,242.38 1015.8,227.71 1001.68,212.61 987.32,197.06 972.71,181.03 957.86,164.5 942.73,147.42 927.33,129.76 911.64,111.48 895.63,92.54 879.3,72.88 862.64,52.45" fill="none" stroke="#ffb000" stroke-width="1.2" />
<polyline points="1783,799.94 1775.43,794.96 1767.81,789.92 1760.14,784.84 1752.43,779.71 1744.68,774.53 1736.87,769.29 1729.01,764 1721.11,758.66 1713.15,753.26 1705.15,747.81 1697.09,742.3 1688.98,736.73 1680.82,731.1 1672.6,725.4 1664.32,719.65 1655.99,713.83 1647.6,707.94 1639.15,701.99 1630.65,695.97 1622.08,689.88 1613.45,683.71 1604.76,677.47 1596,671.16 1587.18,664.77 1578.29,658.3 1569.33,651.75 1560.31,645.11 1551.21,638.39 1542.05,631.58 1532.8,624.68 1523.49,617.69 1514.1,610.6 1504.63,603.42 1495.08,596.14 1485.44,588.75 1475.73,581.25 1465.93,573.65 1456.04,565.93 1446.07,558.1 1436,550.15 1425.84,542.07 1415.58,533.87 1405.23,525.53 1394.78,517.06 1384.22,508.46 1373.56,499.7 1362.79,490.8 1351.91,481.74 1340.92,472.52 1329.8,463.13 1318.57,453.58 1307.22,443.84 1295.74,433.92 1284.13,423.8 1272.38,413.49 1260.5,402.97 1248.47,392.23 1236.3,381.26 1223.97,370.06 1211.49,358.61 1198.84,346.91 1186.03,334.93 1173.04,322.67 1159.88,310.12 1146.52,297.26 1132.98,284.07 1119.24,270.54 1105.28,256.65 1091.12,242.38 1076.72,227.71 1062.1,212.61 1047.22,197.06 1032.1,181.03 1016.7,164.5 1001.03,147.42 985.06,129.76 968.79,111.48 952.2,92.54 935.26,72.88 917.97,52.45" fill="none" stroke="#ffb000" stroke-width="1.2" />
<polyline points="1866.42,799.94 1858.61,794.96 1850.77,789.92 1842.87,784.84 1834.93,779.71 1826.93,774.53 1818.89,769.29 1810.8,764 1802.65,758.66 1794.46,753.26 1786.21,747.81 1777.91,742.3 1769.55,736.73 1761.14,731.1 1752.67,725.4 1744.14,719.65 1735.55,713.83 1726.91,707.94 1718.2,701.99 1709.43,695.97 1700.6,689.88 1691.71,683.71 1682.75,677.47 1673.72,671.16 1664.63,664.77 1655.46,658.3 1646.23,651.75 1636.92,645.11 1627.55,638.39 1618.09,631.58 1608.57,624.68 1598.96,617.69 1589.27,610.6 1579.51,603.42 1569.66,596.14 1559.73,588.75 1549.71,581.25 1539.6,573.65 1529.4,565.93 1519.11,558.1 1508.72,550.15 1498.24,542.07 1487.66,533.87 1476.98,525.53 1466.19,517.06 1455.3,508.46 1444.3,499.7 1433.18,490.8 1421.95,481.74 1410.6,472.52 1399.14,463.13 1387.54,453.58 1375.82,443.84 1363.97,433.92 1351.98,423.8 1339.85,413.49 1327.57,402.97 1315.15,392.23 1302.58,381.26 1289.84,370.06 1276.95,358.61 1263.88,346.91 1250.65,334.93 1237.23,322.67 1223.62,310.12 1209.82,297.26 1195.82,284.07 1181.61,270.54 1167.18,256.65 1152.53,242.38 1137.65,227.71 1122.52,212.61 1107.13,197.06 1091.48,181.03 1075.55,164.5 1059.33,147.42 1042.8,129.76 1025.95,111.48 1008.76,92.54 991.22,72.88 973.3,52.45" fill="none" stroke="#ffb000" stroke-width="1.2" />
<polyline points="1949.83,799.94 1941.8,794.96 1933.72,789.92 1925.6,784.84 1917.42,779.71 1909.19,774.53 1900.91,769.29 1892.58,764 1884.2,758.66 1875.76,753.26 1867.27,747.81 1858.72,742.3 1850.12,736.73 1841.45,731.1 1832.73,725.4 1823.95,719.65 1815.11,713.83 1806.21,707.94 1797.25,701.99 1788.22,695.97 1779.12,689.88 1769.96,683.71 1760.74,677.47 1751.44,671.16 1742.07,664.77 1732.64,658.3 1723.13,651.75 1713.54,645.11 1703.88,638.39 1694.14,631.58 1684.33,624.68 1674.43,617.69 1664.45,610.6 1654.39,603.42 1644.24,596.14 1634.01,588.75 1623.68,581.25 1613.26,573.65 1602.75,565.93 1592.15,558.1 1581.45,550.15 1570.64,542.07 1559.74,533.87 1548.72,525.53 1537.6,517.06 1526.37,508.46 1515.03,499.7 1503.57,490.8 1491.99,481.74 1480.29,472.52 1468.47,463.13 1456.51,453.58 1444.42,443.84 1432.19,433.92 1419.83,423.8 1407.31,413.49 1394.65,402.97 1381.84,392.23 1368.86,381.26 1355.72,370.06 1342.41,358.61 1328.93,346.91 1315.26,334.93 1301.41,322.67 1287.36,310.12 1273.11,297.26 1258.66,284.07 1243.98,270.54 1229.08,256.65 1213.95,242.38 1198.57,227.71 1182.94,212.61 1167.04,197.06 1150.86,181.03 1134.39,164.5 1117.62,147.42 1100.53,129.76 1083.11,111.48 1065.33,92.54 1047.18,72.88 1028.64,52.45" fill="none" stroke="#ffb000" stroke-width="1.2" />
</g>
<text x="0" y="0" font-size="16" fill="#ffb000" stroke="#ffb000" stroke-width="0.35" text-anchor="middle" font-family='"Liberation Serif","Times New Roman",serif' dominant-baseline="central" transform="translate(65.4 142.1) rotate(57)">10</text>
<text x="0" y="0" font-size="16" fill="#ffb000" stroke="#ffb000" stroke-width="0.35" text-anchor="middle" font-family='"Liberation Serif","Times New Roman",serif' dominant-baseline="central" transform="translate(66 288) rotate(57)">0</text>
<text x="0" y="0" font-size="16" fill="#ffb000" stroke="#ffb000" stroke-width="0.35" text-anchor="middle" font-family='"Liberation Serif","Times New Roman",serif' dominant-baseline="central" transform="translate(65.6 431.8) rotate(57)">−10</text>
<text x="0" y="0" font-size="16" fill="#ffb000" stroke="#ffb000" stroke-width="0.35" text-anchor="middle" font-family='"Liberation Serif","Times New Roman",serif' dominant-baseline="central" transform="translate(64.2 570.5) rotate(57)">−20</text>
<text x="0" y="0" font-size="16" fill="#ffb000" stroke="#ffb000" stroke-width="0.35" text-anchor="middle" font-family='"Liberation Serif","Times New Roman",serif' dominant-baseline="central" transform="translate(64 711.4) rotate(57)">−30</text>
<text x="0" y="0" font-size="20" fill="#ffb000" stroke="#ffb000" stroke-width="0.35" text-anchor="middle" font-family='"Liberation Serif","Times New Roman",serif' dominant-baseline="central" transform="translate(639.4 200.7) rotate(-45)">0</text>
<text x="0" y="0" font-size="20" fill="#ffb000" stroke="#ffb000" stroke-width="0.35" text-anchor="middle" font-family='"Liberation Serif","Times New Roman",serif' dominant-baseline="central" transform="translate(660.8 320.2) rotate(-45)">10</text>
<text x="0" y="0" font-size="20" fill="#ffb000" stroke="#ffb000" stroke-width="0.35" text-anchor="middle" font-family='"Liberation Serif","Times New Roman",serif' dominant-baseline="central" transform="translate(703.4 398.6) rotate(-45)">20</text>
<text x="0" y="0" font-size="20" fill="#ffb000" stroke="#ffb000" stroke-width="0.35" text-anchor="middle" font-family='"Liberation Serif","Times New Roman",serif' dominant-baseline="central" transform="translate(746.5 475.9) rotate(-45)">30</text>
<text x="0" y="0" font-size="15" fill="#80dc00" stroke="#80dc00" stroke-width="0.35" text-anchor="middle" font-family='"Liberation Serif","Times New Roman",serif' dominant-baseline="central" transform="translate(201.51 787) rotate(-59.82)">1</text>
<text x="0" y="0" font-size="15" fill="#80dc00" stroke="#80dc00" stroke-width="0.35" text-anchor="middle" font-family='"Liberation Serif","Times New Roman",serif' dominant-baseline="central" transform="translate(271.87 787) rotate(-60.52)">2</text>
<text x="0" y="0" font-size="15" fill="#80dc00" stroke="#80dc00" stroke-width="0.35" text-anchor="middle" font-family='"Liberation Serif","Times New Roman",serif' dominant-baseline="central" transform="translate(315.5 787) rotate(-60.97)">3</text>
<text x="0" y="0" font-size="15" fill="#80dc00" stroke="#80dc00" stroke-width="0.35" text-anchor="middle" font-family='"Liberation Serif","Times New Roman",serif' dominant-baseline="central" transform="translate(373.27 787) rotate(-61.59)">5</text>
<text x="0" y="0" font-size="15" fill="#80dc00" stroke="#80dc00" stroke-width="0.35" text-anchor="middle" font-family='"Liberation Serif","Times New Roman",serif' dominant-baseline="central" transform="translate(429.32 787) rotate(-62.21)">8</text>
<text x="0" y="0" font-size="15" fill="#80dc00" stroke="#80dc00" stroke-width="0.35" text-anchor="middle" font-family='"Liberation Serif","Times New Roman",serif' dominant-baseline="central" transform="translate(479.97 787) rotate(-62.79)">12</text>
<text x="0" y="0" font-size="15" fill="#80dc00" stroke="#80dc00" stroke-width="0.35" text-anchor="middle" font-family='"Liberation Serif","Times New Roman",serif' dominant-baseline="central" transform="translate(546.81 787) rotate(-63.58)">20</text>
<line x1="56" y1="52.5" x2="629.5" y2="52.5" stroke="#4a3a1a" stroke-width="1"/>
<line x1="56" y1="800.5" x2="760" y2="800.5" stroke="#4a3a1a" stroke-width="1"/>
<line x1="629.5" y1="52.5" x2="629.5" y2="297.33" stroke="#555" stroke-width="1"/>
<line x1="629.5" y1="297.33" x2="759.5" y2="529.52" stroke="#111" stroke-width="1.2"/>
<line x1="759.5" y1="529.52" x2="759.5" y2="800.5" stroke="#555" stroke-width="1"/>
<line x1="56.5" y1="52" x2="56.5" y2="801" stroke="#333" stroke-width="1"/>
<line x1="57" y1="70" x2="57" y2="720.5" stroke="#1aa81a" stroke-width="2"/>
<line x1="86.61" y1="800" x2="86.61" y2="809" stroke="#333" stroke-width="1"/>
<text x="86.61" y="833.3" font-size="16.6" fill="#000" stroke="#000" stroke-width="0.35" text-anchor="middle" >-30</text>
<line x1="168.87" y1="800" x2="168.87" y2="809" stroke="#333" stroke-width="1"/>
<text x="168.87" y="833.3" font-size="16.6" fill="#000" stroke="#000" stroke-width="0.35" text-anchor="middle" >-20</text>
<line x1="251.13" y1="800" x2="251.13" y2="809" stroke="#333" stroke-width="1"/>
<text x="251.13" y="833.3" font-size="16.6" fill="#000" stroke="#000" stroke-width="0.35" text-anchor="middle" >-10</text>
<line x1="333.39" y1="800" x2="333.39" y2="809" stroke="#333" stroke-width="1"/>
<text x="333.39" y="833.3" font-size="16.6" fill="#000" stroke="#000" stroke-width="0.35" text-anchor="middle" >0</text>
<line x1="415.65" y1="800" x2="415.65" y2="809" stroke="#333" stroke-width="1"/>
<text x="415.65" y="833.3" font-size="16.6" fill="#000" stroke="#000" stroke-width="0.35" text-anchor="middle" >10</text>
<line x1="497.9" y1="800" x2="497.9" y2="809" stroke="#333" stroke-width="1"/>
<text x="497.9" y="833.3" font-size="16.6" fill="#000" stroke="#000" stroke-width="0.35" text-anchor="middle" >20</text>
<line x1="580.16" y1="800" x2="580.16" y2="809" stroke="#333" stroke-width="1"/>
<text x="580.16" y="833.3" font-size="16.6" fill="#000" stroke="#000" stroke-width="0.35" text-anchor="middle" >30</text>
<line x1="662.42" y1="800" x2="662.42" y2="809" stroke="#333" stroke-width="1"/>
<text x="662.42" y="833.3" font-size="16.6" fill="#000" stroke="#000" stroke-width="0.35" text-anchor="middle" >40</text>
<text x="375.5" y="853.9" font-size="15.5" fill="#000" stroke="#000" stroke-width="0.35" text-anchor="start" textLength="111.03" lengthAdjust="spacingAndGlyphs" >Temperature (C)</text>
<text x="44.7" y="58.55" font-size="16.6" fill="#000" stroke="#000" stroke-width="0.35" text-anchor="end" >250</text>
<text x="44.7" y="153.52" font-size="16.6" fill="#000" stroke="#000" stroke-width="0.35" text-anchor="end" >300</text>
<text x="44.7" y="303.36" font-size="16.6" fill="#000" stroke="#000" stroke-width="0.35" text-anchor="end" >400</text>
<text x="44.7" y="419.59" font-size="16.6" fill="#000" stroke="#000" stroke-width="0.35" text-anchor="end" >500</text>
<text x="44.7" y="594.85" font-size="16.6" fill="#000" stroke="#000" stroke-width="0.35" text-anchor="end" >700</text>
<text x="44.7" y="695.98" font-size="16.6" fill="#000" stroke="#000" stroke-width="0.35" text-anchor="end" >850</text>
<text x="44.7" y="780.63" font-size="16.6" fill="#000" stroke="#000" stroke-width="0.35" text-anchor="end" >1000</text>
<text x="0" y="0" font-size="16.5" fill="#000" stroke="#000" stroke-width="0.35" text-anchor="middle" transform="translate(14.7 444) rotate(-90)">P (hPa)</text>
<circle cx="46.4" cy="22.1" r="4.4" fill="#000"/>
<text x="55.5" y="29.8" font-size="22.2" fill="#000" stroke="#000" stroke-width="0.35" text-anchor="start" textLength="89.97" lengthAdjust="spacingAndGlyphs" >Flock_Hill</text>
<text x="150.5" y="27" font-size="12.8" fill="#000" stroke="#000" stroke-width="0.25" text-anchor="start" textLength="147.57" lengthAdjust="spacingAndGlyphs" >-43.126°,171.781° (36,31)</text>
<text x="315.5" y="29.8" font-size="22.2" fill="#000" stroke="#000" stroke-width="0.35" text-anchor="start" textLength="156.1" lengthAdjust="spacingAndGlyphs" >Valid 0900 NZDT</text>
<text x="478.5" y="27.6" font-size="13.8" fill="#000" stroke="#000" stroke-width="0.25" text-anchor="start" textLength="53.8" lengthAdjust="spacingAndGlyphs" >(2000Z)</text>
<text x="538" y="29.8" font-size="22.2" fill="#000" stroke="#000" stroke-width="0.35" text-anchor="start" textLength="158.44" lengthAdjust="spacingAndGlyphs" >MON 8 Dec 2025</text>
<text x="702" y="27.6" font-size="15.6" fill="#000" stroke="#000" stroke-width="0.35" text-anchor="start" textLength="117.98" lengthAdjust="spacingAndGlyphs" >[8hrFcst@1721z]</text>
<text x="290" y="48.4" font-size="13.2" fill="#b0004a" stroke="#b0004a" stroke-width="0.25" text-anchor="start" textLength="282.37" lengthAdjust="spacingAndGlyphs" >Plcl=794 Tlcl[C]=3 Shox=6 Pwat[cm]=2 Cape[J]= 13</text>
<text x="56.4" y="49.3" font-size="12.4" fill="#22b522" stroke="#22b522" stroke-width="0.25" text-anchor="middle" >0.0</text>
<text x="56.4" y="64.4" font-size="12.4" fill="#000" stroke="#000" stroke-width="0.25" text-anchor="middle" >0.0</text>
<text x="56.4" y="799.4" font-size="12.4" fill="#22b522" stroke="#22b522" stroke-width="0.25" text-anchor="middle" >0.0</text>
<text x="56.4" y="812.9" font-size="12.4" fill="#000" stroke="#000" stroke-width="0.25" text-anchor="middle" >0.0</text>
<text x="86.65" y="49.3" font-size="12.4" fill="#22b522" stroke="#22b522" stroke-width="0.25" text-anchor="middle" >0.5</text>
<text x="86.65" y="64.4" font-size="12.4" fill="#000" stroke="#000" stroke-width="0.25" text-anchor="middle" >0.5</text>
<text x="86.65" y="799.4" font-size="12.4" fill="#22b522" stroke="#22b522" stroke-width="0.25" text-anchor="middle" >0.5</text>
<text x="86.65" y="812.9" font-size="12.4" fill="#000" stroke="#000" stroke-width="0.25" text-anchor="middle" >0.5</text>
<text x="116.9" y="49.3" font-size="12.4" fill="#22b522" stroke="#22b522" stroke-width="0.25" text-anchor="middle" >1.0</text>
<text x="116.9" y="64.4" font-size="12.4" fill="#000" stroke="#000" stroke-width="0.25" text-anchor="middle" >1.0</text>
<text x="116.9" y="799.4" font-size="12.4" fill="#22b522" stroke="#22b522" stroke-width="0.25" text-anchor="middle" >1.0</text>
<text x="116.9" y="812.9" font-size="12.4" fill="#000" stroke="#000" stroke-width="0.25" text-anchor="middle" >1.0</text>
<text x="133" y="799.4" font-size="12.8" fill="#22b522" stroke="#22b522" stroke-width="0.25" text-anchor="start" textLength="102.06" lengthAdjust="spacingAndGlyphs" >CloudWater (g/Kg)</text>
<text x="133" y="812.9" font-size="12.8" fill="#000" stroke="#000" stroke-width="0.25" text-anchor="start" textLength="122.69" lengthAdjust="spacingAndGlyphs" >Grid-Scale Cloudiness</text>
<line x1="713.3" y1="52" x2="713.3" y2="781.3" stroke="#555" stroke-width="1"/>
<line x1="804.5" y1="781.38" x2="814" y2="781.38" stroke="#000" stroke-width="1"/>
<text x="824.8" y="787.48" font-size="16.8" fill="#000" stroke="#000" stroke-width="0.35" text-anchor="start" >0</text>
<line x1="804.5" y1="743.48" x2="814" y2="743.48" stroke="#000" stroke-width="1"/>
<text x="824.8" y="749.58" font-size="16.8" fill="#000" stroke="#000" stroke-width="0.35" text-anchor="start" >2</text>
<line x1="804.5" y1="705.04" x2="814" y2="705.04" stroke="#000" stroke-width="1"/>
<text x="824.8" y="711.14" font-size="16.8" fill="#000" stroke="#000" stroke-width="0.35" text-anchor="start" >4</text>
<line x1="804.5" y1="666.05" x2="814" y2="666.05" stroke="#000" stroke-width="1"/>
<text x="824.8" y="672.15" font-size="16.8" fill="#000" stroke="#000" stroke-width="0.35" text-anchor="start" >6</text>
<line x1="804.5" y1="626.5" x2="814" y2="626.5" stroke="#000" stroke-width="1"/>
<text x="824.8" y="632.6" font-size="16.8" fill="#000" stroke="#000" stroke-width="0.35" text-anchor="start" >8</text>
<line x1="804.5" y1="586.37" x2="814" y2="586.37" stroke="#000" stroke-width="1"/>
<text x="824.8" y="592.47" font-size="16.8" fill="#000" stroke="#000" stroke-width="0.35" text-anchor="start" >10</text>
<line x1="804.5" y1="545.65" x2="814" y2="545.65" stroke="#000" stroke-width="1"/>
<text x="824.8" y="551.75" font-size="16.8" fill="#000" stroke="#000" stroke-width="0.35" text-anchor="start" >12</text>
<line x1="804.5" y1="504.3" x2="814" y2="504.3" stroke="#000" stroke-width="1"/>
<text x="824.8" y="510.4" font-size="16.8" fill="#000" stroke="#000" stroke-width="0.35" text-anchor="start" >14</text>
<line x1="804.5" y1="462.33" x2="814" y2="462.33" stroke="#000" stroke-width="1"/>
<text x="824.8" y="468.43" font-size="16.8" fill="#000" stroke="#000" stroke-width="0.35" text-anchor="start" >16</text>
<line x1="804.5" y1="419.7" x2="814" y2="419.7" stroke="#000" stroke-width="1"/>
<text x="824.8" y="425.8" font-size="16.8" fill="#000" stroke="#000" stroke-width="0.35" text-anchor="start" >18</text>
<line x1="804.5" y1="376.4" x2="814" y2="376.4" stroke="#000" stroke-width="1"/>
<text x="824.8" y="382.5" font-size="16.8" fill="#000" stroke="#000" stroke-width="0.35" text-anchor="start" >20</text>
<line x1="804.5" y1="332.4" x2="814" y2="332.4" stroke="#000" stroke-width="1"/>
<text x="824.8" y="338.5" font-size="16.8" fill="#000" stroke="#000" stroke-width="0.35" text-anchor="start" >22</text>
<line x1="804.5" y1="287.68" x2="814" y2="287.68" stroke="#000" stroke-width="1"/>
<text x="824.8" y="293.78" font-size="16.8" fill="#000" stroke="#000" stroke-width="0.35" text-anchor="start" >24</text>
<line x1="804.5" y1="242.22" x2="814" y2="242.22" stroke="#000" stroke-width="1"/>
<text x="824.8" y="248.32" font-size="16.8" fill="#000" stroke="#000" stroke-width="0.35" text-anchor="start" >26</text>
<line x1="804.5" y1="195.99" x2="814" y2="195.99" stroke="#000" stroke-width="1"/>
<text x="824.8" y="202.09" font-size="16.8" fill="#000" stroke="#000" stroke-width="0.35" text-anchor="start" >28</text>
<line x1="804.5" y1="148.97" x2="814" y2="148.97" stroke="#000" stroke-width="1"/>
<text x="824.8" y="155.07" font-size="16.8" fill="#000" stroke="#000" stroke-width="0.35" text-anchor="start" >30</text>
<line x1="804.5" y1="101.12" x2="814" y2="101.12" stroke="#000" stroke-width="1"/>
<text x="824.8" y="107.22" font-size="16.8" fill="#000" stroke="#000" stroke-width="0.35" text-anchor="start" >32</text>
<text x="0" y="0" font-size="17" fill="#000" stroke="#000" stroke-width="0.35" text-anchor="middle" transform="translate(774.3 426.5) rotate(90)">Height (1000 Feet)</text>
<text x="713" y="66" font-size="14.5" fill="#ff0000" stroke="#ff0000" stroke-width="0.25" text-anchor="middle" font-weight="bold" textLength="7.25" lengthAdjust="spacingAndGlyphs" >0</text>
<text x="713" y="799.9" font-size="14.5" fill="#ff0000" stroke="#ff0000" stroke-width="0.25" text-anchor="middle" font-weight="bold" textLength="7.25" lengthAdjust="spacingAndGlyphs" >0</text>
<text x="758.4" y="66" font-size="14.5" fill="#ff0000" stroke="#ff0000" stroke-width="0.25" text-anchor="middle" font-weight="bold" textLength="14.5" lengthAdjust="spacingAndGlyphs" >40</text>
<text x="758.4" y="799.9" font-size="14.5" fill="#ff0000" stroke="#ff0000" stroke-width="0.25" text-anchor="middle" font-weight="bold" textLength="14.5" lengthAdjust="spacingAndGlyphs" >40</text>
<text x="804.3" y="66" font-size="14.5" fill="#ff0000" stroke="#ff0000" stroke-width="0.25" text-anchor="middle" font-weight="bold" textLength="14.5" lengthAdjust="spacingAndGlyphs" >80</text>
<text x="804.3" y="799.9" font-size="14.5" fill="#ff0000" stroke="#ff0000" stroke-width="0.25" text-anchor="middle" font-weight="bold" textLength="14.5" lengthAdjust="spacingAndGlyphs" >80</text>
<text x="850.5" y="66" font-size="14.5" fill="#ff0000" stroke="#ff0000" stroke-width="0.25" text-anchor="middle" font-weight="bold" textLength="21.75" lengthAdjust="spacingAndGlyphs" >120</text>
<text x="850.5" y="799.9" font-size="14.5" fill="#ff0000" stroke="#ff0000" stroke-width="0.25" text-anchor="middle" font-weight="bold" textLength="21.75" lengthAdjust="spacingAndGlyphs" >120</text>
<line x1="804.1" y1="51.7" x2="804.1" y2="800.3" stroke="#000" stroke-width="2"/>
<text x="731.5" y="812.9" font-size="12.8" fill="#ff0000" stroke="#ff0000" stroke-width="0.25" text-anchor="start" textLength="57.63" lengthAdjust="spacingAndGlyphs" >Speed (kt)</text>
<polyline points="812.4,70.9 804.3,100.9 797,125.6 792.7,143 790.3,172.1 790.6,209.9 791.2,239 790.3,282.6 789.8,300 785.4,348.1 782.5,385.9 781,415 781.6,452.8 784,493.5 786.9,530 788.9,553.3 789.2,573.6 786.3,602.7 781.6,625.9 778.1,652.1 773.8,672.4 765.1,687 760.7,695.7 758.4,707.3 752,716 736,720.4" fill="none" stroke="#ff2020" stroke-width="1.1" />
<polyline points="261.2,70.5 272.2,106 282.1,139.3 297.1,169.9 316.3,202.3 338,240.5 353.4,283.7 357.8,327.9 355,372.3 351.1,412.7 350.1,444.7 352.9,471.1 361.4,495.5 371.3,510 386.4,528.8 401.4,549.5 412.7,566.5 421.2,589.1 424.9,613.5 426.3,638 424,649.3 418.4,658.7 410.7,665.9 406.2,673.6 405.5,682.7 406.2,698.2 406.2,712.5 407.5,717.5 410.4,719.6" fill="none" stroke="#0066ff" stroke-width="3.0" stroke-linejoin="round"/>
<polyline points="295.5,70.5 313.3,106 329.3,139.3 343.6,169.9 358.3,202.3 372.5,240.5 387.4,283.7 399.4,327.9 410.9,372.3 418.6,412.6 422.5,445.6 427.1,473.5 431,495.1 434.6,510 436.7,519 442.8,542 448.5,568.4 451.3,590.9 454.1,617.3 456.9,638 457,651.6 454.7,663.3 451.9,673.6 450.8,682.7 452.1,691.8 456,699.5 462.5,708.6 470.2,716.4 479.3,719.6 483.4,720" fill="none" stroke="#ff0000" stroke-width="3.0" stroke-linejoin="round"/>
<line x1="452.5" y1="685.3" x2="480" y2="719.2" stroke="#6e0f6a" stroke-width="2.1" stroke-dasharray="11.1,5.2"/>
<circle cx="483.4" cy="720" r="3.8" fill="#ff0000"/>
<circle cx="422" cy="720.2" r="3.8" fill="#0066ff"/>
<polygon points="682.3,52.3 686.84,55.03 687.34,45.44" fill="#000"/>
<polygon points="684.3,85.2 688.61,88.29 689.88,78.77" fill="#000"/>
<polygon points="686.5,115.7 690.48,119.2 692.7,109.86" fill="#000"/>
<polygon points="689.6,143.6 693.15,147.54 696.43,138.51" fill="#000"/>
<polygon points="692.6,173.7 695.71,177.99 699.93,169.37" fill="#000"/>
<polygon points="694.4,210.9 697.25,215.37 701.97,207.01" fill="#000"/>
<polygon points="695.3,254 698.05,258.53 702.96,250.28" fill="#000"/>
<polygon points="694.4,299.3 697.32,303.72 701.91,295.29" fill="#000"/>
<polygon points="691.4,343.3 694.59,347.53 698.64,338.82" fill="#000"/>
<polygon points="687.5,387.5 691.3,391.2 693.98,381.98" fill="#000"/>
<polygon points="686,422.3 690.03,425.74 692.11,416.37" fill="#000"/>
<polygon points="685.3,450.2 689.37,453.59 691.33,444.19" fill="#000"/>
<polygon points="685.5,473.5 689.69,476.75 691.33,467.29" fill="#000"/>
<polygon points="685.5,489.6 689.63,492.92 691.42,483.48" fill="#000"/>
<polygon points="685.5,503.5 689.58,506.89 691.53,497.49" fill="#000"/>
<polygon points="685.5,516.1 689.63,519.42 691.42,509.98" fill="#000"/>
<polygon points="685.5,528 689.61,531.35 691.48,521.94" fill="#000"/>
<polygon points="685.5,539.1 689.63,542.43 691.44,533" fill="#000"/>
<polygon points="685.5,550.3 689.73,553.49 691.24,544.01" fill="#000"/>
<polygon points="685.5,560.1 689.69,563.35 691.33,553.89" fill="#000"/>
<polygon points="686,569.9 690.19,573.15 691.83,563.69" fill="#000"/>
<polygon points="686.5,579 690.65,582.3 692.39,572.86" fill="#000"/>
<polygon points="686.8,587.5 690.92,590.84 692.76,581.42" fill="#000"/>
<polygon points="686.5,595.5 690.61,598.84 692.46,589.42" fill="#000"/>
<polygon points="686,603.5 690.16,606.79 691.88,597.34" fill="#000"/>
<polygon points="685,611.5 689.22,614.71 690.76,605.23" fill="#000"/>
<polygon points="684.3,619 688.59,622.11 689.91,612.6" fill="#000"/>
<polygon points="683.5,627 687.85,630.02 688.99,620.49" fill="#000"/>
<polygon points="683,635 687.44,637.9 688.3,628.34" fill="#000"/>
<polygon points="682.5,642.5 687.02,645.26 687.59,635.68" fill="#000"/>
<polygon points="682,650 686.58,652.66 686.95,643.07" fill="#000"/>
<polygon points="681.5,658 686.17,660.51 686.21,650.91" fill="#000"/>
<polygon points="681,665.6 685.73,668 685.54,658.4" fill="#000"/>
<path d="M713.3,70.9L682.3,52.3M713.3,106L684.3,85.2M713.3,139.3L686.5,115.7M713.3,169.9L689.6,143.6M713.3,202.3L692.6,173.7M713.3,240.5L694.4,210.9M713.3,283.7L695.3,254M713.3,327.9L694.4,299.3M713.3,372.3L691.4,343.3M713.3,412.6L687.5,387.5M713.3,445.6L686,422.3M713.3,473.5L685.3,450.2M713.3,495.1L685.5,473.5M713.3,511.9L685.5,489.6M713.3,526.6L685.5,503.5M713.3,538.4L685.5,516.1M713.3,550.7L685.5,528M713.3,561.5L685.5,539.1M713.3,571.3L685.5,550.3M713.3,581.7L685.5,560.1M713.3,591.1L686,569.9M713.3,600.3L686.5,579M713.3,609L686.8,587.5M713.3,617.3L686.5,595.5M713.3,625.1L686,603.5M713.3,633L685,611.5M713.3,640L684.3,619M713.3,647.7L683.5,627M713.3,654.8L683,635M713.3,661.3L682.5,642.5M713.3,668.2L682,650M713.3,675.1L681.5,658M713.3,682L681,665.6M713.3,688.6L685.2,670M713.3,695L685.2,675M713.3,700.5L685.2,680M713.3,705L685.2,685M713.3,709L685.2,690M713.3,712.2L685.2,694M713.3,714.8L685.2,697.5M713.3,717L685.2,701M713.3,719.3L685.2,704" fill="none" stroke="#000" stroke-width="1.5"/>
<path d="M689.07,56.36l0.5,-9.59M691.73,57.96l0.5,-9.59M694.39,59.55l0.5,-9.59M697.05,61.15l0.5,-9.59M690.72,89.8l1.28,-9.51M693.24,91.61l1.28,-9.51M695.76,93.42l1.28,-9.51M692.43,120.92l2.22,-9.34M694.76,122.97l2.22,-9.34M694.89,149.47l3.28,-9.02M696.96,151.77l3.28,-9.02M697.23,180.1l4.22,-8.62M699.05,182.61l4.22,-8.62M698.65,217.56l4.72,-8.36M700.32,220.17l4.72,-8.36M699.39,260.76l4.91,-8.25M701,263.41l4.91,-8.25M698.76,305.89l4.59,-8.43M700.46,308.48l2.2,-4.05M696.16,349.6l4.05,-8.7M693.16,393.01l2.68,-9.22M692.01,427.43l2.07,-9.37M691.37,455.25l1.96,-9.4M691.74,478.35l1.64,-9.46M694.19,480.25l0.79,-4.54M691.66,494.54l1.79,-9.43M694.08,496.48l0.86,-4.53M691.58,508.55l1.95,-9.4M693.96,510.53l0.94,-4.51M691.66,521.04l1.79,-9.43M694.08,522.98l0.86,-4.53M691.62,533l1.87,-9.42M694.02,534.96l0.9,-4.52M691.65,544.06l1.81,-9.43M694.07,546l0.87,-4.53M691.8,555.06l1.51,-9.48M694.28,556.93l0.73,-4.55M691.74,564.95l1.64,-9.46M694.19,566.85l0.79,-4.54M692.24,574.75l1.64,-9.46M694.69,576.65l0.79,-4.54M692.68,583.92l1.75,-9.44M695.11,585.84l0.84,-4.53M692.93,592.48l1.84,-9.42M695.34,594.43l0.88,-4.52M692.63,600.49l1.85,-9.42M692.2,608.4l1.72,-9.44M691.29,616.28l1.54,-9.48M690.7,623.63l1.32,-9.51M689.99,631.51l1.13,-9.53M689.61,639.32l0.41,-4.59M689.24,646.62l0.27,-4.6M688.83,653.97l0.18,-4.6M685.2,670l0.92,-9.56M687.79,671.71l0.92,-9.56M690.37,673.42l0.92,-9.56M692.96,675.13l0.92,-9.56M695.54,676.84l0.44,-4.59M685.2,675l1.24,-9.52M687.73,676.8l1.24,-9.52M690.25,678.6l1.24,-9.52M692.78,680.39l1.24,-9.52M695.3,682.19l0.6,-4.57M685.2,680l1.35,-9.5M687.7,681.83l1.35,-9.5M690.21,683.65l1.35,-9.5M692.71,685.48l1.35,-9.5M685.2,685l1.24,-9.52M687.73,686.8l1.24,-9.52M690.25,688.6l1.24,-9.52M692.78,690.39l1.24,-9.52M685.2,690l1.01,-9.55M687.77,691.74l1.01,-9.55M690.34,693.47l1.01,-9.55M692.9,695.21l1.01,-9.55M685.2,694l0.83,-9.56M687.8,695.69l0.83,-9.56M690.4,697.37l0.83,-9.56M693.01,699.06l0.4,-4.59M685.2,697.5l0.61,-9.58M687.84,699.13l0.61,-9.58M690.48,700.75l0.61,-9.58M693.12,702.38l0.29,-4.6M685.2,701l0.28,-9.6M687.89,702.53l0.28,-9.6M690.59,704.07l0.28,-9.6M685.2,704l0.1,-9.6M687.92,705.48l0.1,-9.6M690.65,706.96l0.05,-4.61" fill="none" stroke="#111" stroke-width="1.15"/>
</svg></body></html>
